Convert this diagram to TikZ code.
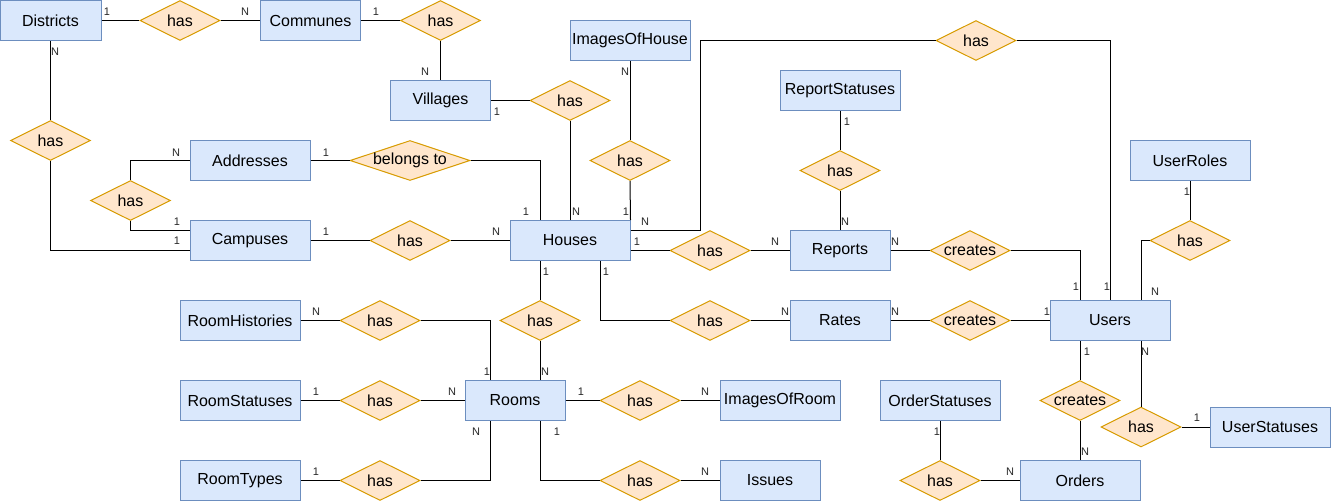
\documentclass[tikz,border=0pt]{standalone}
\usepackage{fontspec}
\setmainfont{Liberation Sans}
\usetikzlibrary{shapes.geometric}
\definecolor{entfill}{HTML}{DAE8FC}
\definecolor{entdraw}{HTML}{6C8EBF}
\definecolor{relfill}{HTML}{FFE6CC}
\definecolor{reldraw}{HTML}{D79B00}
\newcommand{\rtext}[1]{\makebox[0pt]{#1}}
\begin{document}
\begin{tikzpicture}[x=1pt,y=-1pt,
  ent/.style={draw=entdraw,fill=entfill,line width=1pt,minimum width=120pt,minimum height=40pt,inner sep=0pt,font=\fontsize{16}{18}\selectfont,text=black},
  entn/.style={ent,minimum width=100pt},
  rel/.style={diamond,draw=reldraw,fill=relfill,line width=1pt,minimum width=80pt,minimum height=40pt,inner sep=0pt,font=\fontsize{16}{18}\selectfont,text=black},
  relw/.style={rel,minimum width=120pt},
  lbl/.style={font=\fontsize{11}{12}\selectfont,inner sep=0pt,text=black!85},
  conn/.style={draw=black,line width=1pt}]
\useasboundingbox (0,0) rectangle (1331,501);

% entities
\node[ent,minimum width=101pt] (Districts) at (50.5,20.5) {Districts};
\node[entn] (Communes) at (310.5,20.5) {Communes};
\node[entn] (Villages) at (440.5,100.5) {Villages};
\node[ent] (IoH) at (630,40.5) {ImagesOfHouse};
\node[ent] (RepSt) at (840,90.5) {ReportStatuses};
\node[ent] (UserRoles) at (1190,160.5) {UserRoles};
\node[ent] (Addresses) at (250,160.5) {Addresses};
\node[ent] (Campuses) at (250,240.5) {Campuses};
\node[ent] (Houses) at (570,240.5) {Houses};
\node[entn] (Reports) at (840,250.5) {Reports};
\node[entn] (Rates) at (840,320.5) {Rates};
\node[ent] (Users) at (1110,320.5) {Users};
\node[ent] (RoomHist) at (240,320.5) {RoomHistories};
\node[ent] (RoomSt) at (240,400.5) {RoomStatuses};
\node[ent] (RoomTypes) at (240,480.5) {RoomTypes};
\node[entn] (Rooms) at (515,400.5) {Rooms};
\node[ent] (IoR) at (780,400.5) {ImagesOfRoom};
\node[entn] (Issues) at (770,480.5) {Issues};
\node[ent] (OrdSt) at (940,400.5) {OrderStatuses};
\node[ent] (Orders) at (1080,480.5) {Orders};
\node[ent] (UserSt) at (1270,427) {UserStatuses};

% relationships
\node[rel] (hDC) at (180,20.5) {\rtext{has}};
\node[rel] (hCV) at (440.5,20.5) {\rtext{has}};
\node[rel] (hDCa) at (50.5,140.5) {\rtext{has}};
\node[rel] (hVH) at (570,100.5) {\rtext{has}};
\node[rel] (hIH) at (630,160.5) {\rtext{has}};
\node[rel] (hHU) at (976,40.5) {\rtext{has}};
\node[rel] (hRS) at (840,170.5) {\rtext{has}};
\node[rel] (hUR) at (1190,240.5) {\rtext{has}};
\node[relw] (belongs) at (410,160.5) {\rtext{belongs to}};
\node[rel] (hAC) at (130.5,200.5) {\rtext{has}};
\node[rel] (hCH) at (410,240.5) {\rtext{has}};
\node[rel] (hHR) at (710,250.5) {\rtext{has}};
\node[rel] (cRU) at (970,250.5) {\rtext{creates}};
\node[rel] (hHRo) at (540,320.5) {\rtext{has}};
\node[rel] (hHRt) at (710,320.5) {\rtext{has}};
\node[rel] (cRtU) at (970,320.5) {\rtext{creates}};
\node[rel] (hRH) at (380,320.5) {\rtext{has}};
\node[rel] (hRSt) at (380,400.5) {\rtext{has}};
\node[rel] (hRT) at (380,480.5) {\rtext{has}};
\node[rel] (hRI) at (640,400.5) {\rtext{has}};
\node[rel] (hRIs) at (640,480.5) {\rtext{has}};
\node[rel] (cUO) at (1080,400.5) {\rtext{creates}};
\node[rel] (hOS) at (940,480.5) {\rtext{has}};
\node[rel] (hUS) at (1141,427) {\rtext{has}};

\coordinate (k1) at (700,40.5);

% connectors
\draw[conn] (Districts) -- (hDC) -- (Communes);
\draw[conn] (Communes) -- (hCV) -- (Villages);
\draw[conn] (Districts) -- (hDCa);
\draw[conn] (hDCa.south) |- ([yshift=-10pt]Campuses.west);
\draw[conn] (Addresses.west) -| (hAC.north);
\draw[conn] (hAC.south) |- ([yshift=10pt]Campuses.west);
\draw[conn] (Addresses) -- (belongs);
\draw[conn] (belongs.east) -| ([xshift=-30pt]Houses.north);
\draw[conn] (Villages) -- (hVH);
\draw[conn] (hVH) -- (Houses);
\draw[conn] (IoH) -- (hIH);
\draw[conn] (hIH.south) -- (Houses.north east);
\draw[conn] (Campuses) -- (hCH) -- (Houses);
\draw[conn] ([yshift=10pt]Houses.east) -| (k1) -- (hHU.west);
\draw[conn] (hHU.east) -| (Users.north);
\draw[conn] ([yshift=-10pt]Houses.east) -- (hHR.west);
\draw[conn] (hHR) -- (Reports);
\draw[conn] (RepSt) -- (hRS) -- (Reports);
\draw[conn] (Reports) -- (cRU);
\draw[conn] (cRU.east) -| ([xshift=-30pt]Users.north);
\draw[conn] (UserRoles) -- (hUR);
\draw[conn] (hUR.west) -| ([xshift=31pt]Users.north);
\draw[conn] ([xshift=30pt]Houses.south) |- (hHRt.west);
\draw[conn] (hHRt) -- (Rates);
\draw[conn] (Rates) -- (cRtU) -- (Users);
\draw[conn] ([xshift=-30pt]Houses.south) -- (hHRo.north);
\draw[conn] (hHRo.south) -- ([xshift=25pt]Rooms.north);
\draw[conn] (RoomHist) -- (hRH);
\draw[conn] (hRH.east) -| ([xshift=-25pt]Rooms.north);
\draw[conn] (RoomSt) -- (hRSt) -- (Rooms);
\draw[conn] ([xshift=-25pt]Rooms.south) |- (hRT.east);
\draw[conn] (hRT) -- (RoomTypes);
\draw[conn] (Rooms) -- (hRI) -- (IoR);
\draw[conn] ([xshift=25pt]Rooms.south) |- (hRIs.west);
\draw[conn] (hRIs) -- (Issues);
\draw[conn] ([xshift=-30pt]Users.south) -- (cUO.north);
\draw[conn] (cUO) -- (Orders);
\draw[conn] ([xshift=31pt]Users.south) -- (hUS.north);
\draw[conn] (hUS) -- (UserSt);
\draw[conn] (OrdSt) -- (hOS);
\draw[conn] (hOS) -- (Orders);

% cardinality labels
\node[lbl] (l1) at (107,12) {1};
\node[lbl] (l2) at (245,12) {N};
\node[lbl] (l3) at (376,12) {1};
\node[lbl] (l4) at (425,72) {N};
\node[lbl] (l5) at (55,52) {N};
\node[lbl] (l6) at (497,112) {1};
\node[lbl] (l7) at (176,153) {N};
\node[lbl] (l8) at (326,153) {1};
\node[lbl] (l9) at (177,222) {1};
\node[lbl] (l10) at (177,241) {1};
\node[lbl] (l11) at (326,232) {1};
\node[lbl] (l12) at (496,232) {N};
\node[lbl] (l13) at (526,212) {1};
\node[lbl] (l14) at (576,212) {N};
\node[lbl] (l15) at (626,212) {1};
\node[lbl] (l16) at (645,222) {N};
\node[lbl] (l17) at (637,242) {1};
\node[lbl] (l18) at (625,72) {N};
\node[lbl] (l19) at (775,242) {N};
\node[lbl] (l20) at (847,122) {1};
\node[lbl] (l21) at (845,222) {N};
\node[lbl] (l22) at (895,242) {N};
\node[lbl] (l23) at (1187,192) {1};
\node[lbl] (l24) at (546,272) {1};
\node[lbl] (l25) at (606,272) {1};
\node[lbl] (l26) at (316,312) {N};
\node[lbl] (l27) at (487,372) {1};
\node[lbl] (l28) at (545,372) {N};
\node[lbl] (l29) at (316,392) {1};
\node[lbl] (l30) at (452,392) {N};
\node[lbl] (l31) at (581,392) {1};
\node[lbl] (l32) at (476,432) {N};
\node[lbl] (l33) at (557,432) {1};
\node[lbl] (l34) at (316,472) {1};
\node[lbl] (l35) at (785,312) {N};
\node[lbl] (l36) at (895,312) {N};
\node[lbl] (l37) at (1047,312) {1};
\node[lbl] (l38) at (1076,287) {1};
\node[lbl] (l39) at (1107,287) {1};
\node[lbl] (l40) at (1155,292) {N};
\node[lbl] (l41) at (1087,352) {1};
\node[lbl] (l42) at (1145,352) {N};
\node[lbl] (l43) at (705,392) {N};
\node[lbl] (l44) at (705,472) {N};
\node[lbl] (l45) at (937,432) {1};
\node[lbl] (l46) at (1085,452) {N};
\node[lbl] (l47) at (1010,472) {N};
\node[lbl] (l48) at (1197,418) {1};
\end{tikzpicture}
\end{document}
